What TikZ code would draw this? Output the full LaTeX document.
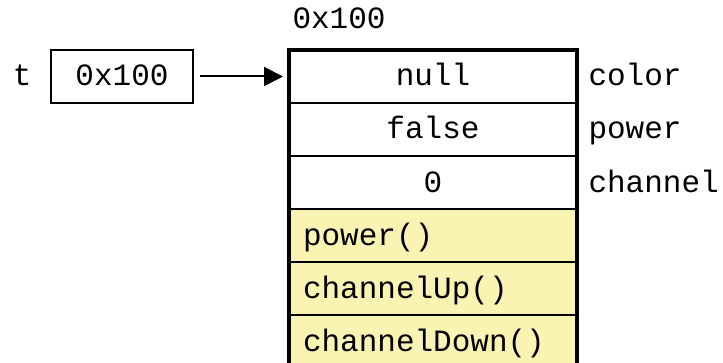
\documentclass[tikz,border=0pt]{standalone}
\usepackage{fontspec}
\setmonofont{Liberation Mono}
\usetikzlibrary{arrows.meta,positioning}
\definecolor{methodfill}{HTML}{F9F4B1}

\begin{document}
\begin{tikzpicture}[
  x=1pt, y=1pt,
  node distance=0pt,
  txt/.style={font=\ttfamily\fontsize{31}{36}\selectfont, text height=24pt, text depth=5pt},
  cell/.style={txt, rectangle, draw, line width=1.5pt, inner sep=0pt, outer sep=0pt,
               minimum width=288pt, minimum height=53pt},
  method/.style={cell, fill=methodfill, text width=260pt, align=left},
  frame/.style={line width=3.2pt},
  ptr/.style={-{Triangle[length=19pt, width=19pt]}, line width=2pt}
]
\useasboundingbox (0,0) rectangle (723,362);

% object on the heap
\node[cell] (color) at (433,285.5) {null};
\node[cell, below=of color] (power) {false};
\node[cell, below=of power] (channel) {0};
\node[method, below=of channel] (mpower) {power()};
\node[method, below=of mpower] (mup) {channelUp()};
\node[method, below=of mup] (mdown) {channelDown()};
\draw[frame] (mdown.south west) -- (color.north west) -- (color.north east) -- (mdown.south east);

\node[txt, above=13pt of color.north west, anchor=south west] (addr) {0x100};
\node[txt, right=8pt of color] (lcolor) {color};
\node[txt, right=8pt of power] (lpower) {power};
\node[txt, right=8pt of channel] (lchannel) {channel};

% reference variable
\node[cell, minimum width=142pt, left=96pt of color] (tref) {0x100};
\node[txt, left=16pt of tref] (tname) {t};

\draw[ptr, shorten <=7pt, shorten >=6pt] (tref.east) -- (color.west);
\end{tikzpicture}
\end{document}
